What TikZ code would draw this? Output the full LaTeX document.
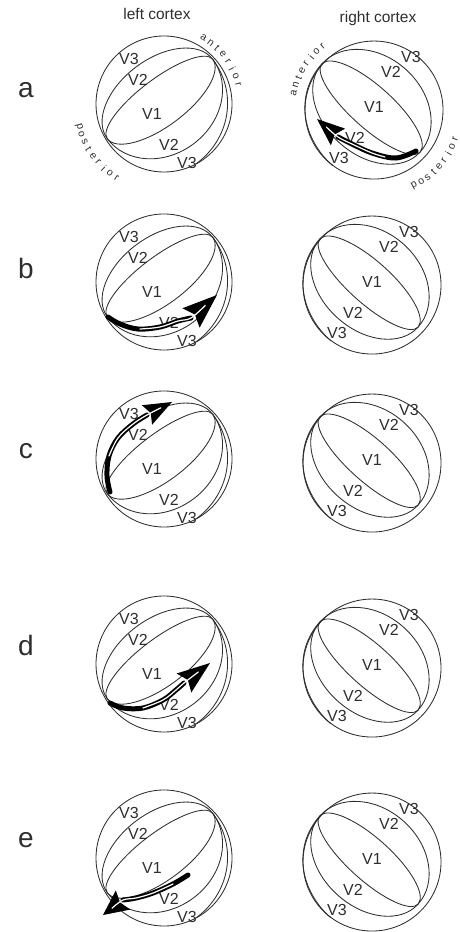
\documentclass[tikz,border=0pt]{standalone}
\usepackage{fontspec}
\setmainfont{Liberation Sans}
\usetikzlibrary{calc}
\definecolor{ink}{gray}{0.18}

\tikzset{
  sph/.style={draw=ink, line width=0.85pt},
  vlab/.style={font=\fontsize{16}{16}\selectfont, text=ink, inner sep=0pt},
  rowlab/.style={font=\fontsize{28}{28}\selectfont, text=ink, inner sep=0pt},
  title/.style={font=\fontsize{15.5}{16}\selectfont, text=ink, inner sep=0pt},
  orient/.style={font=\fontsize{10.5}{11}\selectfont, text=ink, inner sep=0pt},
  shaft/.style={line width=5pt, black, line cap=round},
  core/.style={line width=1.2pt, white, line cap=round},
  tip/.style={fill=black},
}

% Left hemisphere: circle outline with V1, V2/V3 meridians (axis tilted 37 deg)
% #1 name prefix, #2,#3 centre of the outline
\newcommand\lcortex[3]{%
  \begin{scope}[shift={(#2,#3)}]
    \begin{scope}[shift={(-4,-5)}, rotate=37]
      \draw[sph] (0.2pt,-6.4pt) circle[radius=68pt];
      \draw[sph] (-66pt,0pt) arc[start angle=180,end angle=0,x radius=66pt,y radius=20pt]
                             arc[start angle=0,end angle=-180,x radius=66pt,y radius=27pt];
      \draw[sph] (-66pt,0pt) arc[start angle=180,end angle=0,x radius=66pt,y radius=40pt]
                             arc[start angle=0,end angle=-180,x radius=66pt,y radius=56pt];
      \draw[sph] (66pt,0pt) .. controls (66pt,-42pt) and (32pt,-74pt) .. (-10pt,-73.5pt);
    \end{scope}
    \node[vlab] (#1-v3u) at (-35,-45) {V3};
    \node[vlab] (#1-v2u) at (-26,-24) {V2};
    \node[vlab] (#1-v1)  at (-12,10)  {V1};
    \node[vlab] (#1-v2l) at (5,41)    {V2};
    \node[vlab] (#1-v3l) at (23,59)   {V3};
  \end{scope}}

% Right hemisphere: mirrored pattern, axis running down to the right
\newcommand\rcortex[3]{%
  \begin{scope}[shift={(#2,#3)}]
    \begin{scope}[shift={(-3,-2)}, rotate=-41.9]
      \draw[sph] (3.6pt,0.5pt) circle[radius=69pt];
      \draw[sph] (-66pt,0pt) arc[start angle=180,end angle=0,x radius=66pt,y radius=22pt]
                             arc[start angle=0,end angle=-180,x radius=66pt,y radius=20pt];
      \draw[sph] (-66pt,0pt) arc[start angle=180,end angle=0,x radius=66pt,y radius=52pt]
                             arc[start angle=0,end angle=-180,x radius=66pt,y radius=47pt];
      \draw[sph] (-66pt,0pt) .. controls (-66pt,-42pt) and (-30pt,-69pt) .. (10pt,-68.5pt);
    \end{scope}
    \node[vlab] (#1-v3u) at (37,-53) {V3};
    \node[vlab] (#1-v2u) at (17,-38) {V2};
    \node[vlab] (#1-v1)  at (0,-3)   {V1};
    \node[vlab] (#1-v2l) at (-19,28) {V2};
    \node[vlab] (#1-v3l) at (-35,48) {V3};
  \end{scope}}

% Spaced lettering around an outline.
% #1 name, #2 centre, #3 radius, #4 first angle, #5 angle step,
% #6 extra rotation (-90 letters face outwards, 90 inwards), #7 letters
\newcommand\ringtext[7]{%
  \foreach \ch [count=\k] in {#7} {%
    \pgfmathsetmacro\ang{#4+(\k-1)*(#5)}
    \node[orient, rotate=\ang+#6] (#1-\k) at ($#2+(\ang:#3)$) {\ch};
  }}

% Thick curved arrow with a white core running into a large head
% #1 shaft points, #2 core points, #3 base of head, #4 tip, #5 half width of head
\newcommand\bigarrow[5]{%
  \draw[shaft] plot[smooth, tension=0.6] coordinates {#1 #3};
  \fill[tip] ($#3!#5!90:#4$) -- #4 -- ($#3!#5!-90:#4$) -- ($#3!0.15!#4$) -- cycle;
  \draw[core] plot[smooth, tension=0.6] coordinates {#2 #3 ($#3!0.55!#4$)};}

\begin{document}
\begin{tikzpicture}[x=1pt, y=-1pt]
  \useasboundingbox (0,0) rectangle (460,932);

  % column titles
  \node[title] (tl) at (157,14) {left cortex};
  \node[title] (tr) at (378,18) {right cortex};

  % row letters
  \node[rowlab] (ra) at (26,90)  {a};
  \node[rowlab] (rb) at (26,268) {b};
  \node[rowlab] (rc) at (26,451) {c};
  \node[rowlab] (rd) at (26,645) {d};
  \node[rowlab] (re) at (26,840) {e};

  % hemispheres
  \lcortex{la}{164}{104}
  \rcortex{ra}{374}{110}
  \lcortex{lb}{164}{282}
  \rcortex{rb}{372}{285}
  \lcortex{lc}{164}{459}
  \rcortex{rc}{372}{463}
  \lcortex{ld}{164}{664}
  \rcortex{rd}{372}{668}
  \lcortex{le}{164}{858}
  \rcortex{re}{372}{862}

  % orientation labels along the outlines (row a only)
  \coordinate (cl) at (164,104);
  \coordinate (cr) at (374,110);
  \ringtext{lant}{(cl)}{77pt}{59}{-6.3}{-90}{a,n,t,e,r,i,o,r}
  \ringtext{lpos}{(cl)}{88pt}{195}{5.3}{90}{p,o,s,t,e,r,i,o,r}
  \ringtext{rant}{(cr)}{82pt}{168}{-5.6}{-90}{a,n,t,e,r,i,o,r}
  \ringtext{rpos}{(cr)}{86pt}{-62}{5.3}{90}{p,o,s,t,e,r,i,o,r}

  % activity arrows
  \bigarrow{(416,151) (396,158) (372,153) (352,144)}{(385,157) (372,153) (352,144)}{(338,137)}{(317,119)}{11pt}
  \bigarrow{(108,317) (120,324) (138,329) (160,327) (178,321)}{(140,329) (160,327) (178,321)}{(191,318)}{(217,295)}{13pt}
  \bigarrow{(110,492) (107,476) (109,456) (118,438) (133,424)}{(109,456) (118,438) (133,424)}{(147,415)}{(172,402)}{11pt}
  \bigarrow{(110,703) (123,708) (143,708) (163,700) (176,690)}{(143,708) (163,700) (176,690)}{(184,683)}{(210,663)}{12pt}
  \bigarrow{(188,875) (173,884) (153,893) (136,898)}{(173,884) (153,893) (136,898)}{(123,900)}{(103,915)}{12pt}
\end{tikzpicture}
\end{document}
